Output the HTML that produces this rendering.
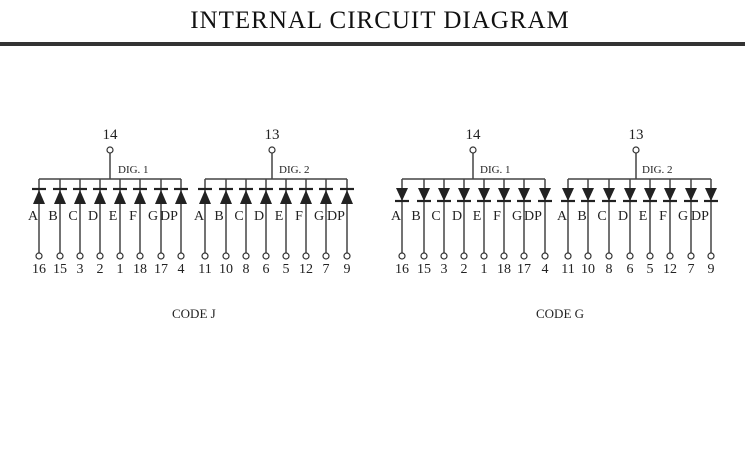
<!DOCTYPE html>
<html><head><meta charset="utf-8"><style>
html,body{margin:0;padding:0;background:#fff;width:745px;height:454px;overflow:hidden}
svg{display:block}
text{font-family:"Liberation Serif",serif;fill:#222}
</style></head><body>
<svg width="745" height="454" viewBox="0 0 745 454" xmlns="http://www.w3.org/2000/svg">
<defs>
<g id="up"><line x1="0" y1="179" x2="0" y2="253" stroke="#444" stroke-width="1.5"/><polygon points="-6,204 6,204 0,190" fill="#222"/><line x1="-7" y1="189" x2="7" y2="189" stroke="#222" stroke-width="2.2"/><circle cx="0" cy="256" r="3" fill="#fff" stroke="#333" stroke-width="1.2"/></g>
<g id="dn"><line x1="0" y1="179" x2="0" y2="253" stroke="#444" stroke-width="1.5"/><polygon points="-6,188 6,188 0,201" fill="#222"/><line x1="-7" y1="201" x2="7" y2="201" stroke="#222" stroke-width="2.2"/><circle cx="0" cy="256" r="3" fill="#fff" stroke="#333" stroke-width="1.2"/></g>
</defs>
<text x="380" y="28" font-size="25" text-anchor="middle" letter-spacing="1" style="fill:#111">INTERNAL CIRCUIT DIAGRAM</text>
<rect x="0" y="42" width="745" height="4" fill="#333"/>

<g stroke="#444" stroke-width="1.5" fill="none">
<line x1="39" y1="179" x2="181" y2="179"/><line x1="205" y1="179" x2="347" y2="179"/>
<line x1="402" y1="179" x2="545" y2="179"/><line x1="568" y1="179" x2="711" y2="179"/>
<line x1="110" y1="153" x2="110" y2="179"/><line x1="272" y1="153" x2="272" y2="179"/>
<line x1="473" y1="153" x2="473" y2="179"/><line x1="636" y1="153" x2="636" y2="179"/>
</g>
<g fill="#fff" stroke="#333" stroke-width="1.2">
<circle cx="110" cy="150" r="3"/><circle cx="272" cy="150" r="3"/><circle cx="473" cy="150" r="3"/><circle cx="636" cy="150" r="3"/>
</g>
<g font-size="15" text-anchor="middle">
<text x="110" y="139">14</text><text x="272" y="139">13</text><text x="473" y="139">14</text><text x="636" y="139">13</text>
</g>
<g font-size="11">
<text x="118" y="173">DIG. 1</text><text x="279" y="173">DIG. 2</text><text x="480" y="173">DIG. 1</text><text x="642" y="173">DIG. 2</text>
</g>

<use href="#up" x="39"/><use href="#up" x="60"/><use href="#up" x="80"/><use href="#up" x="100"/><use href="#up" x="120"/><use href="#up" x="140"/><use href="#up" x="161"/><use href="#up" x="181"/>
<use href="#up" x="205"/><use href="#up" x="226"/><use href="#up" x="246"/><use href="#up" x="266"/><use href="#up" x="286"/><use href="#up" x="306"/><use href="#up" x="326"/><use href="#up" x="347"/>
<use href="#dn" x="402"/><use href="#dn" x="424"/><use href="#dn" x="444"/><use href="#dn" x="464"/><use href="#dn" x="484"/><use href="#dn" x="504"/><use href="#dn" x="524"/><use href="#dn" x="545"/>
<use href="#dn" x="568"/><use href="#dn" x="588"/><use href="#dn" x="609"/><use href="#dn" x="630"/><use href="#dn" x="650"/><use href="#dn" x="670"/><use href="#dn" x="691"/><use href="#dn" x="711"/>

<g font-size="14" text-anchor="middle">
<text x="33" y="220">A</text><text x="53" y="220">B</text><text x="73" y="220">C</text><text x="93" y="220">D</text><text x="113" y="220">E</text><text x="133" y="220">F</text><text x="153" y="220">G</text><text x="169" y="220">DP</text>
<text x="199" y="220">A</text><text x="219" y="220">B</text><text x="239" y="220">C</text><text x="259" y="220">D</text><text x="279" y="220">E</text><text x="299" y="220">F</text><text x="319" y="220">G</text><text x="336" y="220">DP</text>
<text x="396" y="220">A</text><text x="416" y="220">B</text><text x="436" y="220">C</text><text x="457" y="220">D</text><text x="477" y="220">E</text><text x="497" y="220">F</text><text x="517" y="220">G</text><text x="533" y="220">DP</text>
<text x="562" y="220">A</text><text x="582" y="220">B</text><text x="602" y="220">C</text><text x="623" y="220">D</text><text x="643" y="220">E</text><text x="663" y="220">F</text><text x="683" y="220">G</text><text x="700" y="220">DP</text>
</g>
<g font-size="14" text-anchor="middle">
<text x="39" y="273">16</text><text x="60" y="273">15</text><text x="80" y="273">3</text><text x="100" y="273">2</text><text x="120" y="273">1</text><text x="140" y="273">18</text><text x="161" y="273">17</text><text x="181" y="273">4</text>
<text x="205" y="273">11</text><text x="226" y="273">10</text><text x="246" y="273">8</text><text x="266" y="273">6</text><text x="286" y="273">5</text><text x="306" y="273">12</text><text x="326" y="273">7</text><text x="347" y="273">9</text>
<text x="402" y="273">16</text><text x="424" y="273">15</text><text x="444" y="273">3</text><text x="464" y="273">2</text><text x="484" y="273">1</text><text x="504" y="273">18</text><text x="524" y="273">17</text><text x="545" y="273">4</text>
<text x="568" y="273">11</text><text x="588" y="273">10</text><text x="609" y="273">8</text><text x="630" y="273">6</text><text x="650" y="273">5</text><text x="670" y="273">12</text><text x="691" y="273">7</text><text x="711" y="273">9</text>
</g>
<g font-size="13">
<text x="172" y="318">CODE J</text><text x="536" y="318">CODE G</text>
</g>
</svg>
</body></html>
